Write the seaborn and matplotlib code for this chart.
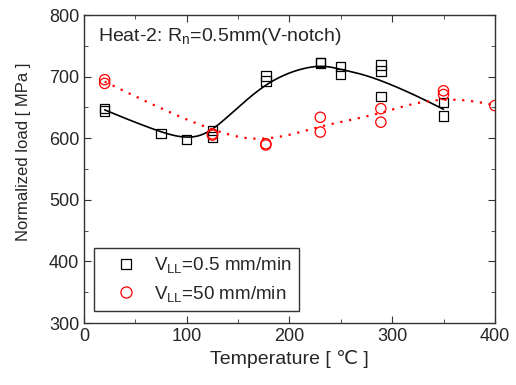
import numpy as np
import pandas as pd
import matplotlib
matplotlib.use("Agg")
import matplotlib.pyplot as plt
from matplotlib.lines import Line2D
from matplotlib.ticker import MultipleLocator
import seaborn as sns

# data
slow_temp = [20, 20, 75, 100, 125, 125, 177, 177, 230, 230, 250, 250, 289, 289, 289, 350, 350]
slow_load = [648, 644, 608, 598, 612, 602, 701, 693, 723, 722, 716, 704, 719, 709, 668, 658, 636]
fast_temp = [20, 20, 125, 125, 177, 177, 230, 230, 289, 289, 350, 350, 400]
fast_load = [695, 689, 607, 605, 591, 589, 634, 610, 648, 626, 677, 671, 653]


def bspline_curve(x, y, n=400, deg=3):
    # clamped cubic B-spline using the mean at each temperature as control points
    m = pd.DataFrame({"x": x, "y": y}).groupby("x")["y"].mean()
    pts = np.column_stack([m.index.values.astype(float), m.values])
    k = len(pts)
    inner = np.linspace(0, 1, k - deg + 1)
    knots = np.concatenate([[0] * deg, inner, [1] * deg])
    out = []
    for t in np.linspace(0, 1, n):
        if t >= 1:
            out.append(pts[-1])
            continue
        # de Boor
        s = np.searchsorted(knots, t, side="right") - 1
        d = [pts[j + s - deg].copy() for j in range(deg + 1)]
        for r in range(1, deg + 1):
            for j in range(deg, r - 1, -1):
                i = j + s - deg
                a = (t - knots[i]) / (knots[i + deg + 1 - r] - knots[i])
                d[j] = (1 - a) * d[j - 1] + a * d[j]
        out.append(d[deg])
    out = np.array(out)
    return out[:, 0], out[:, 1]


sns.set_style("ticks")
plt.rcParams["font.family"] = ["Liberation Sans", "DejaVu Sans"]
plt.rcParams["mathtext.default"] = "regular"

fig = plt.figure(figsize=(5.16, 3.85), dpi=100)
ax = fig.add_axes([0.163, 0.161, 0.796, 0.8])

sx, sy = bspline_curve(slow_temp, slow_load)
fx, fy = bspline_curve(fast_temp, fast_load)
sns.lineplot(x=sx, y=sy, color="black", lw=1.2, sort=False, ax=ax)
sns.lineplot(x=fx, y=fy, color="red", lw=1.6, linestyle=(0, (1, 3)), sort=False, ax=ax)

sns.scatterplot(x=slow_temp, y=slow_load, marker="s", s=45, facecolor="none",
                edgecolor="black", linewidth=0.9, ax=ax, zorder=3)
sns.scatterplot(x=fast_temp, y=fast_load, marker="o", s=55, facecolor="none",
                edgecolor="red", linewidth=0.9, ax=ax, zorder=3)

ax.set_xlim(0, 400)
ax.set_ylim(300, 800)
ax.xaxis.set_major_locator(MultipleLocator(100))
ax.xaxis.set_minor_locator(MultipleLocator(50))
ax.yaxis.set_major_locator(MultipleLocator(100))
ax.yaxis.set_minor_locator(MultipleLocator(50))
ax.tick_params(which="both", direction="in", top=True, right=True, labelsize=13, color="#333333")
ax.tick_params(which="major", length=5)
ax.tick_params(which="minor", length=3)
for sp in ax.spines.values():
    sp.set_linewidth(1.0)
    sp.set_color("#333333")

ax.set_xlabel("Temperature [ \u2103 ]", fontsize=14, labelpad=4)
ax.set_ylabel("Normalized load [ MPa ]", fontsize=12, labelpad=6)
ax.yaxis.set_label_coords(-0.13, 0.555)
ax.text(0.035, 0.93, r"Heat-2: R$_{n}$=0.5mm(V-notch)", transform=ax.transAxes,
        fontsize=14, va="center", ha="left")

handles = [
    Line2D([], [], marker="s", ls="none", mfc="none", mec="black", ms=7, mew=0.9),
    Line2D([], [], marker="o", ls="none", mfc="none", mec="red", ms=8, mew=0.9),
]
labels = [r"V$_{LL}$=0.5 mm/min", r"V$_{LL}$=50 mm/min"]
leg = ax.legend(handles, labels, loc="lower left", bbox_to_anchor=(0.025, 0.038),
                fontsize=13.5, frameon=True, fancybox=False, edgecolor="black",
                handlelength=2.6, handletextpad=0.2, borderpad=0.4,
                labelspacing=0.45, borderaxespad=0)
leg.get_frame().set_linewidth(1.0)

fig.savefig("out.png", dpi=100)
